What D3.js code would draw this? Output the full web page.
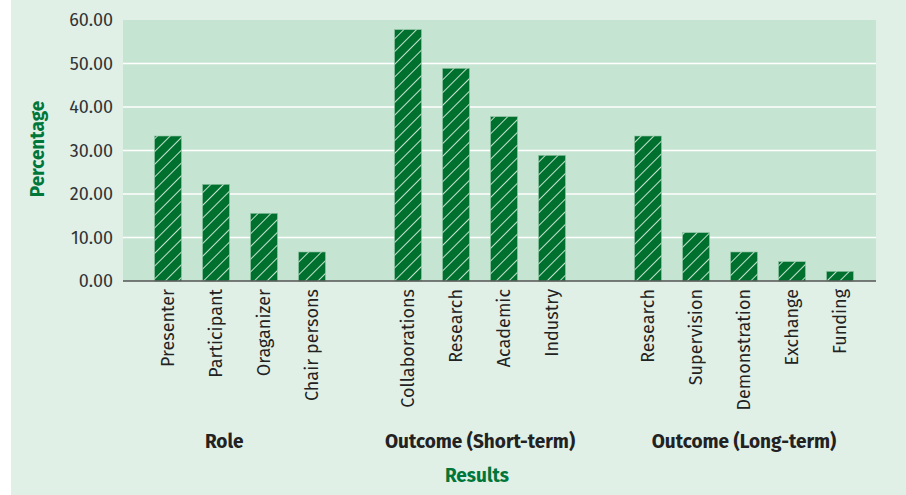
<!DOCTYPE html>
<html>
<head>
<meta charset="utf-8">
<script src="https://cdn.jsdelivr.net/npm/d3@7"></script>
<style>
  body { margin: 0; background: #fff; }
  text { font-family: "Fira Sans", "Noto Sans", sans-serif; }
</style>
</head>
<body>
<svg id="chart" width="906" height="495"></svg>
<script>
// category groups and their bar labels
var groups = ["Role", "Outcome (Short-term)", "Outcome (Long-term)"];
var roleLabels = ["Presenter", "Participant", "Oraganizer", "Chair persons"];
var roleValues = [33.33, 22.22, 15.56, 6.67];
var shortLabels = ["Collaborations", "Research", "Academic", "Industry"];
var shortValues = [57.78, 48.89, 37.78, 28.89];
var longLabels = ["Research", "Supervision", "Demonstration", "Exchange", "Funding"];
var longValues = [33.33, 11.11, 6.67, 4.44, 2.22];
var yTicks = [0, 10, 20, 30, 40, 50, 60];

var cfg = {
	width: 906,
	height: 495,
	left: 123,
	right: 876,
	top: 20,
	bottom: 281
};

// one flat list of bars, with a spacer slot between groups
var ds = [];
var slots = [];
[[roleLabels, roleValues], [shortLabels, shortValues], [longLabels, longValues]].forEach(function(g, gi) {
	if (gi > 0) slots.push("gap" + gi);
	for (var i = 0; i < g[0].length; i++) {
		var key = gi + "-" + i;
		slots.push(key);
		ds.push({ key: key, group: gi, label: g[0][i], value: g[1][i] });
	}
});

var svg = d3.select("#chart");

svg.append("rect")
	.attr("x", 11).attr("y", 0)
	.attr("width", cfg.width - 11).attr("height", cfg.height)
	.attr("fill", "#e0f0e7");

var defs = svg.append("defs");
var pat = defs.append("pattern")
	.attr("id", "hatch")
	.attr("patternUnits", "userSpaceOnUse")
	.attr("width", 9).attr("height", 9)
	.attr("patternTransform", "rotate(45)");
pat.append("rect").attr("width", 9).attr("height", 9).attr("fill", "#00702e");
pat.append("line")
	.attr("x1", 0).attr("y1", 0).attr("x2", 0).attr("y2", 9)
	.attr("stroke", "#c2e2ce").attr("stroke-width", 2);

var x = d3.scaleBand()
	.domain(slots)
	.range([144, 864])
	.paddingInner(0.44)
	.paddingOuter(0.22);

var y = d3.scaleLinear()
	.domain([0, 60])
	.range([cfg.bottom, cfg.top]);

svg.append("rect")
	.attr("x", cfg.left).attr("y", cfg.top)
	.attr("width", cfg.right - cfg.left).attr("height", cfg.bottom - cfg.top)
	.attr("fill", "#c6e4d2");

svg.append("g")
	.selectAll("line")
	.data(yTicks.slice(1, -1))
	.enter().append("line")
	.attr("x1", cfg.left).attr("x2", cfg.right)
	.attr("y1", function(d) { return y(d); })
	.attr("y2", function(d) { return y(d); })
	.attr("stroke", "#ffffff")
	.attr("stroke-width", 1.5);

var yAxis = svg.append("g")
	.attr("transform", "translate(" + cfg.left + ",0)")
	.call(d3.axisLeft(y).tickValues(yTicks).tickSize(0).tickPadding(10).tickFormat(d3.format(".2f")));
yAxis.select(".domain").remove();
yAxis.selectAll("text")
	.attr("fill", "#333")
	.style("font-size", "18px");

svg.append("g")
	.selectAll("rect")
	.data(ds)
	.enter().append("rect")
	.attr("x", function(d) { return x(d.key); })
	.attr("y", function(d) { return y(d.value); })
	.attr("width", x.bandwidth())
	.attr("height", function(d) { return y(0) - y(d.value); })
	.attr("fill", "url(#hatch)")
	.attr("stroke", "#8fc4a4")
	.attr("stroke-width", 0.6);

svg.append("line")
	.attr("x1", cfg.left).attr("x2", cfg.right)
	.attr("y1", cfg.bottom).attr("y2", cfg.bottom)
	.attr("stroke", "#555")
	.attr("stroke-width", 1.5);

// rotated category labels
svg.append("g")
	.selectAll("text")
	.data(ds)
	.enter().append("text")
	.attr("transform", function(d) {
		return "translate(" + (x(d.key) + x.bandwidth() / 2 + 5.5) + "," + (cfg.bottom + 8) + ") rotate(-90)";
	})
	.attr("text-anchor", "end")
	.attr("fill", "#222")
	.style("font-size", "18px")
	.text(function(d) { return d.label; });

// group labels
svg.append("g")
	.selectAll("text")
	.data(groups)
	.enter().append("text")
	.attr("x", function(d, gi) {
		var bars = ds.filter(function(b) { return b.group === gi; });
		var lo = x(bars[0].key) + x.bandwidth() / 2;
		var hi = x(bars[bars.length - 1].key) + x.bandwidth() / 2;
		if (gi === 0) { lo = cfg.left; hi = x(bars[bars.length - 1].key) + x.bandwidth(); }
		return (lo + hi) / 2;
	})
	.attr("y", 448)
	.attr("text-anchor", "middle")
	.attr("fill", "#222")
	.style("font-size", "19px")
	.style("font-weight", "bold")
	.text(function(d) { return d; });

svg.append("text")
	.attr("x", 477).attr("y", 482)
	.attr("text-anchor", "middle")
	.attr("fill", "#00773a")
	.style("font-size", "19px")
	.style("font-weight", "bold")
	.text("Results");

svg.append("text")
	.attr("transform", "translate(44,149) rotate(-90)")
	.attr("text-anchor", "middle")
	.attr("fill", "#00773a")
	.style("font-size", "19px")
	.style("font-weight", "bold")
	.text("Percentage");
</script>
</body>
</html>
